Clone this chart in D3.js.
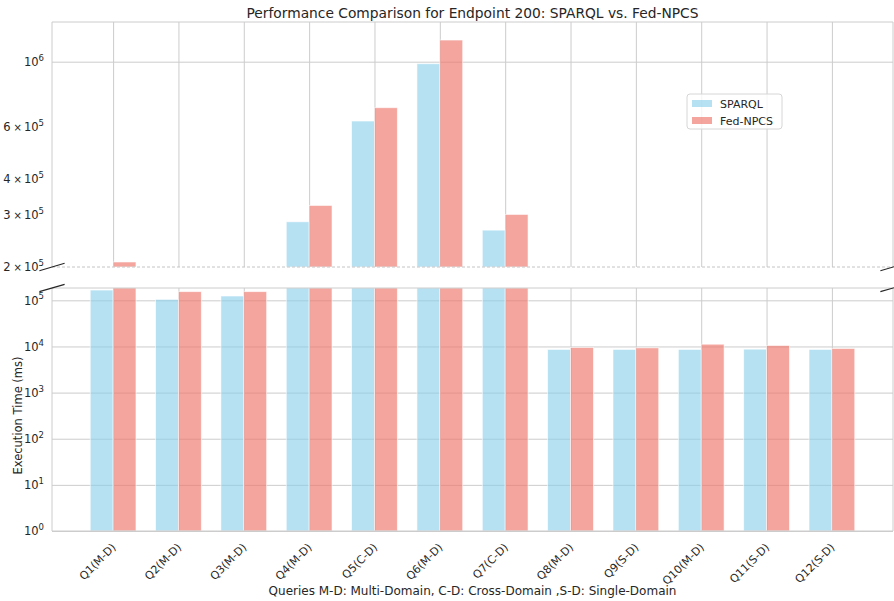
<!DOCTYPE html>
<html>
<head>
<meta charset="utf-8">
<script src="https://cdn.jsdelivr.net/npm/d3@7"></script>
<style>
  body { margin: 0; background: #fff; }
  text { font-family: "DejaVu Sans", sans-serif; fill: #262626; }
</style>
</head>
<body>
<div id="chart"></div>
<script>
const categories = ["Q1(M-D)", "Q2(M-D)", "Q3(M-D)", "Q4(M-D)", "Q5(C-D)", "Q6(M-D)",
  "Q7(C-D)", "Q8(M-D)", "Q9(S-D)", "Q10(M-D)", "Q11(S-D)", "Q12(S-D)"];
const sparql = [167000, 105000, 124000, 285000, 628000, 984000, 267000, 8610, 8610, 8610, 8740, 8610];
const fedNpcs = [208000, 154000, 154000, 324000, 697000, 1185000, 302000, 9510, 9330, 11200, 10500, 9050];
const topTicks = [2e5, 3e5, 4e5, 6e5, 1e6];
const bottomTicks = [1, 10, 100, 1000, 10000, 100000];
const seriesNames = ["SPARQL", "Fed-NPCS"];

let width = 894, height = 601;
let left = 52, right = 893;
let top1 = 22, bot1 = 267, top2 = 288, bot2 = 531;
const colors = ["rgba(135,206,235,0.62)", "rgba(238,120,108,0.66)"];
const grid = "#cccccc";

const svg = d3.select("#chart").append("svg")
  .attr("width", width).attr("height", height);

let x = d3.scaleLinear().domain([-0.935, 11.935]).range([left, right]);
let bw = x(0.35) - x(0);

let yTop = d3.scaleLog().domain([2e5, 1.365e6]).range([bot1, top1]);
let yBot = d3.scaleLog().domain([1, 1.85e5]).range([bot2, top2]);

// label like 10^5 or 3 x 10^5
function sciLabel(sel) {
  sel.each(function(d) {
    const e = Math.floor(Math.log10(d) + 1e-9);
    const m = Math.round(d / Math.pow(10, e));
    const t = d3.select(this).text("");
    if (m !== 1) {
      t.append("tspan").text(m);
      t.append("tspan").attr("dx", 3).attr("font-size", "10px").text("\u00d7");
    }
    t.append("tspan").attr("dx", m !== 1 ? 2 : 0).text("10");
    t.append("tspan").attr("font-size", "8.5px").attr("dy", "-0.6em").text(e);
  });
}

function panel(y, y0, y1, ticks, gridTicks, name) {
  const g = svg.append("g");
  g.append("clipPath").attr("id", "clip-" + name)
    .append("rect").attr("x", left).attr("y", y1).attr("width", right - left).attr("height", y0 - y1);

  // vertical grid
  g.append("g")
    .attr("transform", `translate(0,${y0})`)
    .call(d3.axisBottom(x).tickValues(d3.range(categories.length)).tickSize(-(y0 - y1)).tickFormat(""))
    .call(s => s.select(".domain").remove())
    .selectAll("line").attr("stroke", grid);

  // horizontal grid
  g.append("g")
    .attr("transform", `translate(${left},0)`)
    .call(d3.axisLeft(y).tickValues(gridTicks).tickSize(-(right - left)).tickFormat(""))
    .call(s => s.select(".domain").remove())
    .selectAll("line").attr("stroke", grid);

  // bars
  const bars = g.append("g").attr("clip-path", `url(#clip-${name})`);
  [sparql, fedNpcs].forEach((vals, k) => {
    bars.selectAll(null)
      .data(vals)
      .join("rect")
      .attr("x", (d, i) => x(i) + (k === 0 ? -bw : 0))
      .attr("width", bw)
      .attr("y", d => y(Math.max(Math.min(d, y.domain()[1] * 1.01), y.domain()[0])))
      .attr("height", d => y0 - y(Math.max(Math.min(d, y.domain()[1] * 1.01), y.domain()[0])))
      .attr("fill", colors[k])
      .attr("stroke", "rgba(255,255,255,0.7)")
      .attr("stroke-width", 0.8);
  });

  // tick labels
  g.append("g")
    .attr("transform", `translate(${left},0)`)
    .call(d3.axisLeft(y).tickValues(ticks).tickSize(0).tickPadding(8))
    .call(s => s.select(".domain").remove())
    .selectAll("text")
    .attr("font-size", "11.5px")
    .call(sciLabel);

  return g;
}

panel(yTop, bot1, top1, topTicks, [1e6], "top");
panel(yBot, bot2, top2, bottomTicks, bottomTicks, "bot");

// spines
svg.append("path").attr("d", `M${left},${bot1}V${top1}H${right}V${bot1}`).attr("fill", "none").attr("stroke", grid);
svg.append("line").attr("x1", left).attr("x2", right).attr("y1", bot1).attr("y2", bot1)
  .attr("stroke", "#c4c4c4").attr("stroke-dasharray", "3,2");
svg.append("path").attr("d", `M${left},${top2}V${bot2}H${right}V${top2}`).attr("fill", "none").attr("stroke", grid);
svg.append("line").attr("x1", left).attr("x2", right).attr("y1", top2).attr("y2", top2).attr("stroke", grid);

// break marks
const dw = 0.015 * (right - left);
[[bot1, (bot1 - top1) * 0.015], [top2, (bot2 - top2) * 0.015]].forEach(([yy, dh]) => {
  [left, right].forEach(xx => {
    svg.append("line")
      .attr("x1", xx - dw).attr("y1", yy + dh)
      .attr("x2", xx + dw).attr("y2", yy - dh)
      .attr("stroke", "#262626").attr("stroke-width", 1.1);
  });
});

// x tick labels
svg.append("g")
  .attr("transform", `translate(0,${bot2})`)
  .call(d3.axisBottom(x).tickValues(d3.range(categories.length)).tickSize(0).tickFormat(i => categories[i]))
  .call(s => s.select(".domain").remove())
  .selectAll("text")
  .attr("font-size", "11px")
  .attr("text-anchor", "end")
  .attr("dy", null)
  .attr("y", 0)
  .attr("transform", "translate(3,17) rotate(-45)");

// titles
svg.append("text").attr("x", (left + right) / 2).attr("y", 18)
  .attr("text-anchor", "middle").attr("font-size", "13.8px")
  .text("Performance Comparison for Endpoint 200: SPARQL vs. Fed-NPCS");
svg.append("text").attr("x", (left + right) / 2).attr("y", 595)
  .attr("text-anchor", "middle").attr("font-size", "12px")
  .text("Queries M-D: Multi-Domain, C-D: Cross-Domain ,S-D: Single-Domain");
svg.append("text")
  .attr("transform", `translate(22,${(top2 + bot2) / 2 + 6}) rotate(-90)`)
  .attr("text-anchor", "middle").attr("font-size", "11.5px")
  .text("Execution Time (ms)");

// legend
const lg = svg.append("g").attr("transform", "translate(687,94)");
lg.append("rect").attr("width", 95).attr("height", 35).attr("rx", 3)
  .attr("fill", "rgba(255,255,255,0.8)").attr("stroke", "#d6d6d6");
seriesNames.forEach((n, k) => {
  lg.append("rect").attr("x", 5).attr("y", 6 + k * 17).attr("width", 20).attr("height", 7)
    .attr("fill", colors[k]);
  lg.append("text").attr("x", 33).attr("y", 13.5 + k * 17).attr("font-size", "11px").text(n);
});
</script>
</body>
</html>
